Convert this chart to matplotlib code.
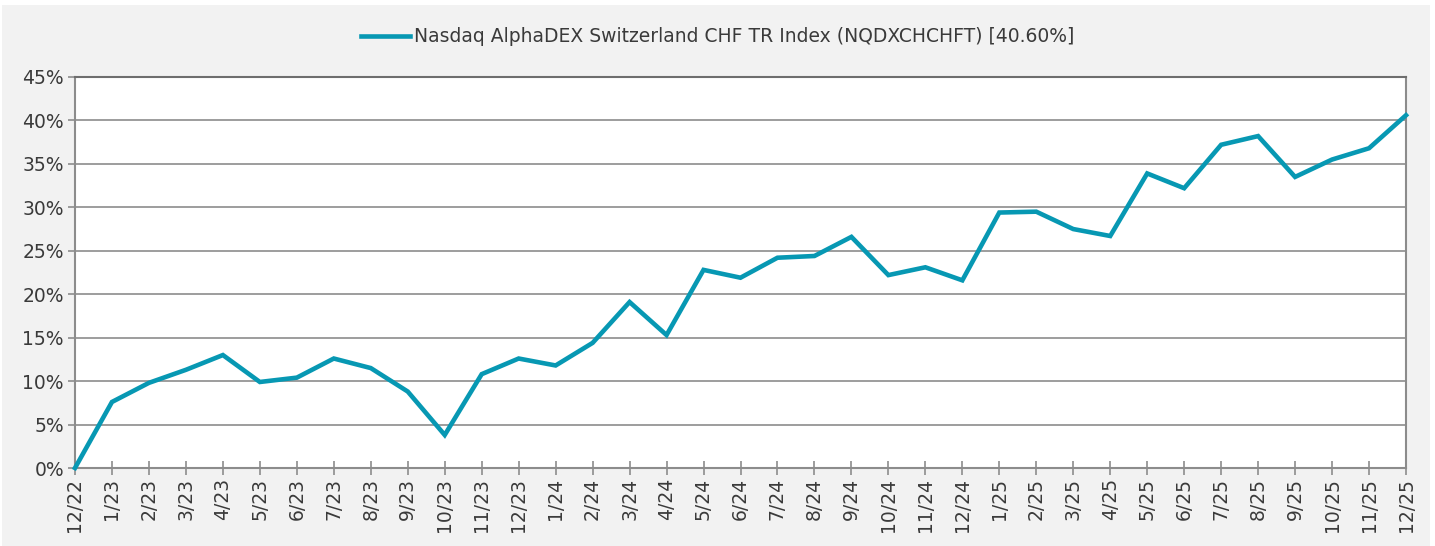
import matplotlib
matplotlib.use("Agg")
import matplotlib.pyplot as plt
from matplotlib.patches import Rectangle
from matplotlib.ticker import FuncFormatter, MultipleLocator

labels = ["12/22", "1/23", "2/23", "3/23", "4/23", "5/23", "6/23", "7/23", "8/23", "9/23",
          "10/23", "11/23", "12/23", "1/24", "2/24", "3/24", "4/24", "5/24", "6/24", "7/24",
          "8/24", "9/24", "10/24", "11/24", "12/24", "1/25", "2/25", "3/25", "4/25", "5/25",
          "6/25", "7/25", "8/25", "9/25", "10/25", "11/25", "12/25"]
values = [0.0, 7.6, 9.8, 11.3, 13.0, 9.9, 10.4, 12.6, 11.5, 8.8,
          3.8, 10.8, 12.6, 11.8, 14.4, 19.1, 15.3, 22.8, 21.9, 24.2,
          24.4, 26.6, 22.2, 23.1, 21.6, 29.4, 29.5, 27.5, 26.7, 33.9,
          32.2, 37.2, 38.2, 33.5, 35.5, 36.8, 40.6]
series_name = "Nasdaq AlphaDEX Switzerland CHF TR Index (NQDXCHCHFT) [40.60%]"

plt.rcParams['font.family'] = ['DejaVu Sans']
text_color = '#3a3a3a'
line_color = '#0798b3'
grid_color = '#8c8c8c'

fig = plt.figure(figsize=(14.35, 5.46), dpi=100, facecolor='white')
fig.patches.append(Rectangle((2/1435, 0), 1428/1435, 541/546, transform=fig.transFigure,
                             facecolor='#f2f2f2', edgecolor='none', zorder=-10))

ax = fig.add_axes([75/1435, 1 - 468/546, (1406 - 75)/1435, (468 - 77)/546])
ax.set_facecolor('white')
x = list(range(len(values)))
ax.plot(x, values, color=line_color, lw=3.3, solid_joinstyle='miter', label=series_name,
        clip_on=False, zorder=3)

ax.set_xlim(0, len(values) - 1)
ax.set_ylim(0, 45)
ax.yaxis.set_major_locator(MultipleLocator(5))
ax.yaxis.set_major_formatter(FuncFormatter(lambda v, p: f"{v:.0f}%"))
ax.set_xticks(x)
ax.set_xticklabels(labels, rotation=90)
ax.grid(axis='y', color=grid_color, lw=1.2)
ax.set_axisbelow(True)
for s in ax.spines.values():
    s.set_color(grid_color)
    s.set_linewidth(1.5)
ax.spines['top'].set_color('#6e6e6e')
ax.tick_params(axis='y', direction='out', length=5, width=1.2, color=grid_color,
               labelsize=13.5, labelcolor=text_color, pad=3)
ax.tick_params(axis='x', direction='inout', length=10, width=1.2, color=grid_color,
               labelsize=13.5, labelcolor=text_color, pad=2)

leg = fig.legend(loc='center', bbox_to_anchor=(0.5, 1 - 37/546), frameon=False,
                 fontsize=13.5, handlelength=2.6, handletextpad=0.2, labelcolor=text_color)

fig.savefig("out.png", dpi=100, facecolor=fig.get_facecolor())
